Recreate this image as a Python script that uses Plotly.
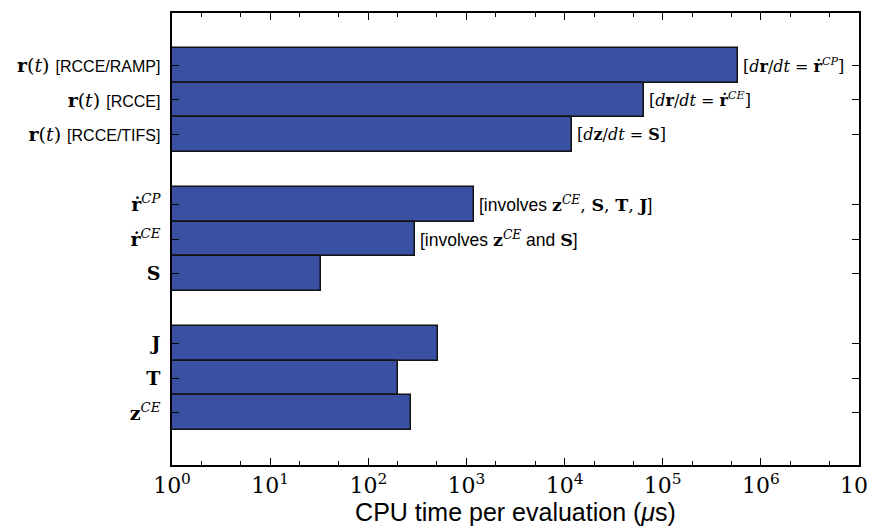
import numpy as np
import plotly.graph_objects as go

SANS = "Liberation Sans, Arial, sans-serif"
SERIF = "DejaVu Serif, Liberation Serif, serif"

def s(t, size=None):
    st = f"font-family:{SANS}"
    if size:
        st += f";font-size:{size}px"
    return f'<span style="{st}">{t}</span>'

labels = [
    "<b>r</b>(<i>t</i>) " + s("[RCCE/RAMP]", 16),
    "<b>r</b>(<i>t</i>) " + s("[RCCE]", 16),
    "<b>r</b>(<i>t</i>) " + s("[RCCE/TIFS]", 16),
    "<b>ṙ</b><sup><i>CP</i></sup>",
    "<b>ṙ</b><sup><i>CE</i></sup>",
    "<b>S</b>",
    "<b>J</b>",
    "<b>T</b>",
    "<b>z</b><sup><i>CE</i></sup>",
]
positions = [11, 10, 9, 7, 6, 5, 3, 2, 1]
values = [5.8e5, 6.4e4, 1.18e4, 1.2e3, 300, 32, 510, 200, 270]
notes = [
    "[<i>d</i><b>r</b>/<i>dt</i> = <b>ṙ</b><sup><i>CP</i></sup>]",
    "[<i>d</i><b>r</b>/<i>dt</i> = <b>ṙ</b><sup><i>CE</i></sup>]",
    "[<i>d</i><b>z</b>/<i>dt</i> = <b>S</b>]",
    s("[involves ") + "<b>z</b><sup><i>CE</i></sup>, <b>S</b>, <b>T</b>, <b>J</b>" + s("]"),
    s("[involves ") + "<b>z</b><sup><i>CE</i></sup>" + s(" and ") + "<b>S</b>" + s("]"),
    "", "", "", "",
]
xtick_vals = [1, 10, 100, 1e3, 1e4, 1e5, 1e6, 1e7]
xtick_text = [f"10<sup>{i}</sup>" for i in range(8)]

fig = go.Figure()
fig.add_trace(go.Bar(
    x=values, y=positions, orientation="h", width=1.0,
    marker=dict(color="#3a51a3", line=dict(color="#111111", width=1.5)),
    base=1, showlegend=False,
))

for v, p, n in zip(values, positions, notes):
    if n:
        fs = 17.5 if "involves" in n else 16
        fig.add_annotation(x=np.log10(v), y=p, text=n, xanchor="left", yanchor="middle",
                           showarrow=False, xshift=3,
                           font=dict(family=SERIF, size=fs, color="black"))

fig.update_layout(
    width=868, height=518,
    margin=dict(l=164, r=17, t=5, b=61),
    plot_bgcolor="white", paper_bgcolor="white",
    font=dict(family=SERIF, color="black"),
    xaxis=dict(
        type="log", range=[-0.0002, 7.0002], tickvals=xtick_vals, ticktext=xtick_text,
        ticks="inside", ticklen=7, tickwidth=1, tickcolor="black",
        showline=True, linecolor="black", linewidth=1.5, mirror="ticks",
        showgrid=False, zeroline=False, automargin=False,
        ticklabeloverflow="allow",
        tickfont=dict(family=SERIF, size=22),
        minor=dict(ticks="inside", ticklen=4, tickcolor="black", tickwidth=1, showgrid=False),
        title=dict(text=s("CPU time per evaluation (") + "<i>μ</i>" + s("s)"),
                   font=dict(family=SANS, size=25), standoff=0),
    ),
    yaxis=dict(
        range=[-0.5, 12.5], tickvals=positions, ticktext=labels,
        ticks="inside", ticklen=7, tickcolor="black",
        showline=True, linecolor="black", linewidth=1.5, mirror="ticks",
        showgrid=False, zeroline=False, automargin=False,
        ticklabelstandoff=6,
        tickfont=dict(family=SERIF, size=19),
    ),
    bargap=0,
)

fig.write_html("out.html")
